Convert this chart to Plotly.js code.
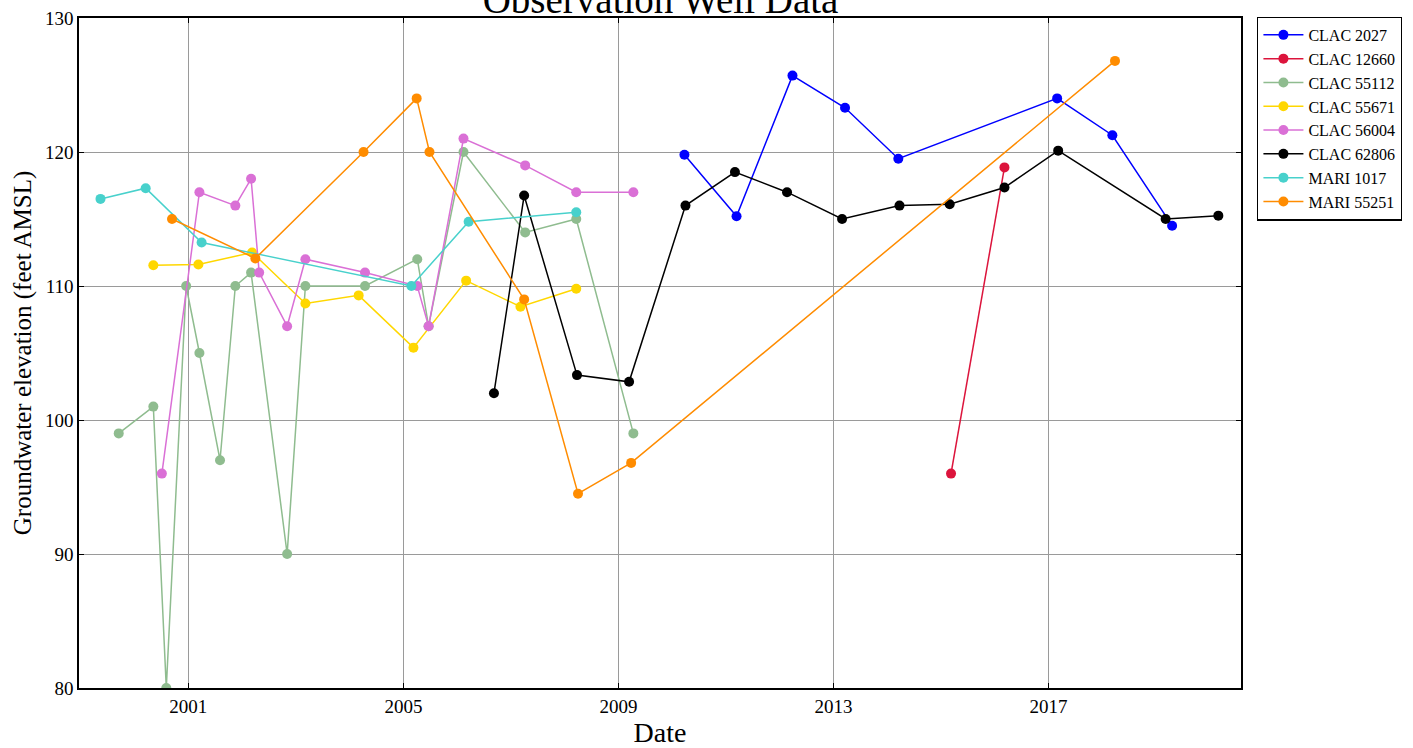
<!DOCTYPE html>
<html>
<head>
<meta charset="utf-8">
<script src="https://cdn.plot.ly/plotly-3.0.1.min.js"></script>
<style>body{margin:0;padding:0;background:#fff;} #chart{width:1413px;height:748px;}</style>
</head>
<body>
<div id="chart"></div>
<script>
// ---- data ----
const clac2027_dates = ["2010-03-25","2011-03-14","2012-03-28","2013-03-20","2014-03-17","2017-02-28","2018-03-10","2019-04-20"];
const clac2027_vals  = [119.8,115.2,125.7,123.3,119.5,124.0,121.25,114.5];

const clac12660_dates = ["2015-03-10","2016-03-07"];
const clac12660_vals  = [96.0,118.85];

const clac55112_dates = ["1999-09-16","2000-05-08","2000-08-04","2000-12-17","2001-03-17","2001-08-04","2001-11-16","2002-03-03","2002-11-03","2003-03-07","2004-04-15","2005-04-05","2005-06-21","2006-02-13","2007-04-08","2008-03-20","2009-04-12"];
const clac55112_vals  = [99,101,80,110,105,97,110,111,90,110,110,112,107,120,114,115,99];

const clac55671_dates = ["2000-05-08","2001-03-10","2002-03-10","2003-03-07","2004-03-03","2005-03-10","2006-03-03","2007-03-07","2008-03-20"];
const clac55671_vals  = [111.55,111.6,112.5,108.7,109.3,105.4,110.4,108.45,109.8];

const clac56004_dates = ["2000-07-05","2001-03-17","2001-11-16","2002-03-03","2002-04-27","2002-11-03","2003-03-07","2004-04-15","2005-04-05","2005-06-21","2006-02-13","2007-04-08","2008-03-20","2009-04-12"];
const clac56004_vals  = [96,117,116,118,111,107,112,111,110,107,121,119,117,117];

const clac62806_dates = ["2006-09-08","2007-04-01","2008-03-25","2009-03-14","2010-04-01","2011-03-03","2012-02-20","2013-02-28","2014-03-25","2015-03-01","2016-03-07","2017-03-07","2019-03-07","2020-02-28"];
const clac62806_vals  = [102,116.75,103.35,102.85,116,118.5,117,115,116,116.1,117.35,120.1,115,115.25];

const mari1017_dates = ["1999-05-15","2000-03-17","2001-04-01","2005-02-24","2006-03-20","2008-03-20"];
const mari1017_vals  = [116.5,117.3,113.25,110.0,114.8,115.5];

const mari55251_dates = ["2000-09-12","2002-04-01","2004-04-05","2005-04-01","2005-06-27","2007-04-01","2008-04-01","2009-03-28","2018-03-28"];
const mari55251_vals  = [115.0,112.06,120.0,124.0,120.0,109.0,94.5,96.8,126.8];

const seriesNames  = ["CLAC 2027","CLAC 12660","CLAC 55112","CLAC 55671","CLAC 56004","CLAC 62806","MARI 1017","MARI 55251"];
const seriesDates  = [clac2027_dates,clac12660_dates,clac55112_dates,clac55671_dates,clac56004_dates,clac62806_dates,mari1017_dates,mari55251_dates];
const seriesVals   = [clac2027_vals,clac12660_vals,clac55112_vals,clac55671_vals,clac56004_vals,clac62806_vals,mari1017_vals,mari55251_vals];
const seriesColors = ["#0000ff","#dc143c","#8fbc8f","#ffd700","#da70d6","#000000","#48d1cc","#ff8c00"];

const yTicks = [80,90,100,110,120,130];
const xTicks = ["2001-01-01","2005-01-01","2009-01-01","2013-01-01","2017-01-01"];
const xTickText = ["2001","2005","2009","2013","2017"];

// ---- traces ----
const traces = seriesNames.map((n,i)=>({
  type:"scatter", mode:"lines+markers", name:n,
  x:seriesDates[i], y:seriesVals[i],
  legendgroup:"g"+i,
  line:{color:seriesColors[i], width:1.5},
  marker:{color:seriesColors[i], size:10, line:{width:0}}
}));

const font = "Liberation Serif, Times New Roman, serif";
const layout = {
  width:1413, height:748,
  margin:{l:79, r:171, t:18, b:60},
  paper_bgcolor:"#fff", plot_bgcolor:"#fff",
  font:{family:font, color:"#000", size:16},
  title:{text:"Observation Well Data", font:{family:font, size:39, color:"#000"}, x:0.4675, xanchor:"center", y:0.983, yref:"container", yanchor:"bottom"},
  showlegend:true,
  legend:{x:1.013, xanchor:"left", y:1.002, yanchor:"top", bgcolor:"#fff", bordercolor:"#000", borderwidth:1.3,
          font:{family:font, size:16, color:"#000"}, traceorder:"grouped", tracegroupgap:0, itemwidth:40},
  xaxis:{type:"date", range:["1998-12-20","2020-07-31"], tickmode:"array", tickvals:xTicks, ticktext:xTickText,
         showgrid:true, gridcolor:"#9a9a9a", gridwidth:1, zeroline:false,
         showline:true, linecolor:"#000", linewidth:1.5, mirror:"ticks", ticks:"inside", ticklen:5, tickcolor:"#000",
         tickfont:{family:font, size:19}, title:{text:"Date", font:{family:font, size:28}, standoff:6}},
  yaxis:{range:[80,130], tickmode:"array", tickvals:yTicks,
         showgrid:true, gridcolor:"#9a9a9a", gridwidth:1, zeroline:false,
         showline:true, linecolor:"#000", linewidth:1.5, mirror:"ticks", ticks:"inside", ticklen:5, tickcolor:"#000",
         tickfont:{family:font, size:19}, title:{text:"Groundwater elevation (feet AMSL)", font:{family:font, size:25}, standoff:6}}
};

Plotly.newPlot("chart", traces, layout, {displayModeBar:false, responsive:false});
</script>
</body>
</html>
